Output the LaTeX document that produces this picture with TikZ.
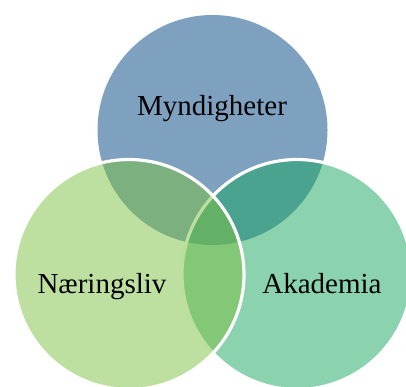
\documentclass[tikz,border=0pt]{standalone}
\usepackage{fontspec}
\setmainfont{Liberation Serif}
\definecolor{topblue}{RGB}{126,161,191}
\definecolor{leftgreen}{RGB}{123,191,63}
\definecolor{rightgreen}{RGB}{23,165,95}
\tikzset{
  setcircle/.style={circle, inner sep=0pt, minimum size=230pt},
  label text/.style={anchor=base, inner sep=0pt, font=\fontsize{29pt}{34pt}\selectfont, text=black}
}
\begin{document}
\begin{tikzpicture}[x=1pt,y=-1pt]
\useasboundingbox (0,0) rectangle (406,387);
\begin{scope}
\clip (0,0) rectangle (406,387);
\node[setcircle, fill=topblue] (gov) at (212.5,130) {};
\node[setcircle, fill=rightgreen, fill opacity=0.5, draw=white, line width=3.2pt] (acad) at (297,274.5) {};
\node[setcircle, fill=leftgreen, fill opacity=0.5, draw=white, line width=3.2pt] (ind) at (129,274.5) {};
\end{scope}
\node[label text] (govtext) at (212,116) {Myndigheter};
\node[label text] (indtext) at (102,293) {Næringsliv};
\node[label text] (acadtext) at (322,293) {Akademia};
\end{tikzpicture}
\end{document}
